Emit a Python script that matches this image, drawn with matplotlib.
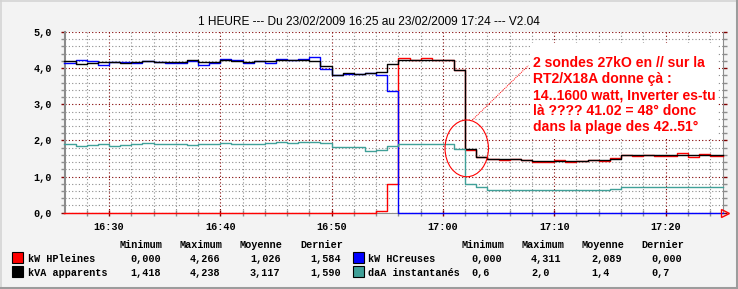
import matplotlib
matplotlib.use("AGG")
import numpy as np
import matplotlib.pyplot as plt
from matplotlib.patches import Ellipse, Rectangle
from matplotlib.lines import Line2D

# minutes after 16:00, one step per minute (16:26 .. 17:24)
minutes = np.arange(26, 85)

kw_hp = [0.0] * 28 + [0.05, 0.79,
         4.27, 4.22, 4.27, 4.22, 4.23, 3.95,
         1.73, 1.53, 1.48, 1.45, 1.48, 1.45, 1.40, 1.40, 1.45, 1.40,
         1.43, 1.47, 1.44, 1.52, 1.60, 1.58, 1.60, 1.57, 1.58, 1.64,
         1.55, 1.62, 1.58]

kw_hc = [4.13, 4.23, 4.19, 4.09, 4.18, 4.16, 4.14, 4.20, 4.17, 4.14,
         4.14, 4.21, 4.09, 4.15, 4.26, 4.23, 4.13, 4.20, 4.13, 4.26,
         4.22, 4.26, 4.30, 3.99, 3.82, 3.83, 3.85, 3.87, 3.82, 3.36] + [0.0] * 29

kva = [4.19, 4.11, 4.14, 4.16, 4.17, 4.14, 4.16, 4.19, 4.18, 4.16,
       4.16, 4.22, 4.17, 4.16, 4.22, 4.21, 4.18, 4.20, 4.19, 4.22,
       4.22, 4.22, 4.20, 4.05, 3.82, 3.86, 3.85, 3.86, 3.88, 4.11,
       4.23, 4.23, 4.23, 4.23, 4.23, 3.95,
       1.75, 1.53, 1.48, 1.48, 1.48, 1.45, 1.42, 1.42, 1.42, 1.42,
       1.42, 1.47, 1.47, 1.49] + [1.60] * 8 + [1.59]

daa = [1.89, 1.85, 1.86, 1.89, 1.84, 1.86, 1.89, 1.92, 1.89, 1.89,
       1.89, 1.86, 1.89, 1.89, 1.92, 1.89, 1.89, 1.89, 1.92, 1.95,
       1.92, 1.97, 1.97, 1.92, 1.81, 1.81, 1.81, 1.70, 1.73, 1.84,
       1.90, 1.90, 1.90, 1.90, 1.90, 1.75,
       0.79, 0.70] + [0.62] * 11 + [0.66] + [0.70] * 9

series_names = ['kW HPleines', 'kVA apparents', 'kW HCreuses', 'daA instantanés']
series_colors = ['#ff0000', '#000000', '#0000ff', '#40a098']
stats = [['0,000', '4,266', '1,026', '1,584'],
         ['1,418', '4,238', '3,117', '1,590'],
         ['0,000', '4,311', '2,089', '0,000'],
         ['0,6', '2,0', '1,4', '0,7']]
stat_heads = ['Minimum', 'Maximum', 'Moyenne', 'Dernier']

title = '1 HEURE --- Du 23/02/2009 16:25 au 23/02/2009 17:24 --- V2.04'
note = ['2 sondes 27kO en // sur la',
        'RT2/X18A donne çà :',
        '14..1600 watt, Inverter es-tu',
        'là ???? 41.02 = 48° donc',
        'dans la plage des 42..51°']

W, H = 738, 289
def fx(px):
    return px / W
def fy(py):
    return 1 - py / H

bg = '#f3f3f3'
grey = '#8c8c8c'
dred = '#800000'
mono = dict(family=['Liberation Mono', 'DejaVu Sans Mono'], weight='bold', size=7.3)

fig = plt.figure(figsize=(W / 100, H / 100), dpi=100, facecolor=bg)

# 3D-ish border
fig.add_artist(Line2D([0, 1], [fy(0.5), fy(0.5)], color='#d4d4d4', lw=1.2))
fig.add_artist(Line2D([fx(0.5), fx(0.5)], [0, 1], color='#d4d4d4', lw=1.2))
fig.add_artist(Line2D([0, 1], [fy(287.5), fy(287.5)], color='#9c9c9c', lw=2.2))
fig.add_artist(Line2D([fx(736.5), fx(736.5)], [0, 1], color='#9c9c9c', lw=2.2))

ax = fig.add_axes([fx(64.5), fy(212.7), (722.7 - 64.5) / W, (212.7 - 32) / H])
ax.set_facecolor('white')
xmin, xmax = 26, 26 + (722.7 - 64.5) / 11.13
ax.set_xlim(xmin, xmax)
ax.set_ylim(0, 5)

ax.set_xticks(np.arange(30, 85, 10))
ax.set_xticklabels(['%d:%02d' % (16 + m // 60, m % 60) for m in range(30, 85, 10)])
ax.set_xticks(np.arange(28, 86, 2), minor=True)
ax.set_yticks(np.arange(0, 5.01, 1))
ax.set_yticklabels(['%d,0' % v for v in range(6)])
ax.set_yticks(np.arange(0, 5.01, 0.2), minor=True)

dots = (0, (1, 2))
ax.grid(True, which='minor', color=grey, ls=dots, lw=0.8)
ax.grid(True, which='major', color=dred, ls=dots, lw=0.8)
ax.set_axisbelow(True)

for lab in ax.get_xticklabels() + ax.get_yticklabels():
    lab.set_fontfamily(mono['family'])
    lab.set_fontweight('bold')
    lab.set_fontsize(7.3)
ax.tick_params(which='both', direction='inout', right=True, labelright=False)
ax.tick_params(which='major', length=5, width=1, color=dred, pad=4)
ax.tick_params(which='minor', length=4, width=1, color=grey)
ax.tick_params(axis='y', which='both', direction='out', length=3)
ax.tick_params(axis='y', which='major', pad=6)

ax.spines['top'].set_visible(False)
for s in ['left', 'right', 'bottom']:
    ax.spines[s].set_color(grey)
ax.spines['left'].set_linewidth(1.5)

xs = np.append(minutes, xmax)
for vals, col in [(kw_hp, series_colors[0]), (kw_hc, series_colors[2]),
                  (kva, series_colors[1]), (daa, series_colors[3])]:
    ax.step(xs, np.append(vals, vals[-1]), where='post', color=col, lw=1.0,
            clip_on=False, zorder=3)

# arrow at the end of the time axis
ax.plot([xmax + 0.25], [0], marker='>', ms=5.5, mfc='none', mec='#ff0000',
        mew=1, clip_on=False, zorder=4)

# annotation
ax.add_patch(Ellipse((62.14, 1.78), 3.9, 1.57, fill=False, ec='#ff0000', lw=0.8, zorder=4))
ax.plot([62.64, 67.67], [2.565, 4.07], color='#ff0000', lw=0.7, ls=(0, (1, 1)), zorder=4)
ax.add_patch(Rectangle((67.82, 2.09), 84.72 - 67.82, 4.70 - 2.09, fc='white',
                       ec='none', zorder=2.5))
for i, line in enumerate(note):
    fig.text(fx(533), fy(67.3 + 16 * i), line, color='#ff0000', fontsize=10.1,
             fontweight='bold', family=['Liberation Sans', 'DejaVu Sans'],
             ha='left', va='baseline')

fig.text(0.5, fy(25), title, ha='center', va='baseline', fontsize=8.6,
         family=['Liberation Sans', 'DejaVu Sans'])

# legend with statistics
groups = [(12, 28, [120, 180, 240, 300], [130, 190, 250, 310]),
          (353, 368, [461, 522, 581, 641], [471, 531, 591, 651])]
rows_y = [257.5, 271.5]
for g, (sqx, labx, headx, valx) in enumerate(groups):
    for hx, h in zip(headx, stat_heads):
        fig.text(fx(hx), fy(248), h, ha='left', va='baseline', **mono)
    for r in range(2):
        k = 2 * g + r
        fig.add_artist(Rectangle((fx(sqx), fy(rows_y[r] + 5)), 10.5 / W, 10.5 / H,
                                 fc=series_colors[k], ec='black', lw=0.8))
        fig.text(fx(labx), fy(rows_y[r] + 4), series_names[k], ha='left',
                 va='baseline', **mono)
        for vx, v in zip(valx, stats[k]):
            fig.text(fx(vx), fy(rows_y[r] + 4), v, ha='left', va='baseline', **mono)

fig.savefig('out.png', dpi=100, facecolor=bg)
